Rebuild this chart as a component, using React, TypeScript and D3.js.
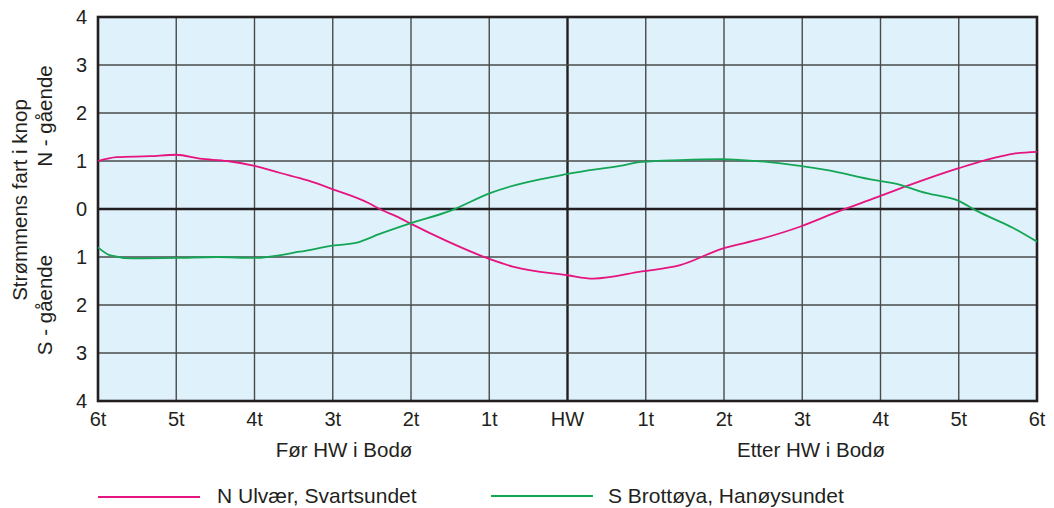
import React from "react";
import * as d3 from "d3";

// hours relative to HW in Bodø (negative = before), values in knots (positive = N-going, negative = S-going)
const hourTicks = [-6, -5, -4, -3, -2, -1, 0, 1, 2, 3, 4, 5, 6];
const hourLabels = ["6t", "5t", "4t", "3t", "2t", "1t", "HW", "1t", "2t", "3t", "4t", "5t", "6t"];
const speedTicks = [4, 3, 2, 1, 0, -1, -2, -3, -4];

const ulvaerHours = [-6, -5.76, -5.34, -5.0, -4.7, -4.35, -4.0, -3.67, -3.33, -2.98, -2.55, -2.4, -2.14, -2.01, -1.54, -1.0, -0.7, 0.0, 0.33, 0.95, 1.44, 1.97, 2.46, 2.97, 3.48, 3.93, 4.34, 5.0, 5.44, 5.69, 6.0];
const ulvaerSpeed = [1.0, 1.08, 1.1, 1.13, 1.05, 1.0, 0.9, 0.75, 0.6, 0.4, 0.13, 0.0, -0.19, -0.3, -0.67, -1.04, -1.2, -1.38, -1.45, -1.3, -1.17, -0.83, -0.63, -0.37, -0.04, 0.23, 0.48, 0.85, 1.06, 1.15, 1.19];

const brottoyaHours = [-6, -5.85, -5.55, -5.0, -4.48, -4.0, -3.42, -2.98, -2.69, -2.4, -2.01, -1.5, -0.99, 0.0, 0.67, 0.95, 1.44, 1.97, 2.24, 2.97, 3.32, 3.93, 4.16, 4.59, 5.0, 5.23, 5.44, 5.69, 6.0];
const brottoyaSpeed = [-0.8, -0.96, -1.03, -1.02, -1.0, -1.02, -0.89, -0.76, -0.7, -0.52, -0.3, -0.04, 0.33, 0.73, 0.9, 0.98, 1.02, 1.04, 1.02, 0.9, 0.81, 0.6, 0.54, 0.33, 0.17, -0.04, -0.2, -0.39, -0.68];

const seriesNames = ["N Ulvær, Svartsundet", "S Brottøya, Hanøysundet"];
const seriesColors = ["#e5147f", "#13a655"];

const W = 1054;
const H = 508;
const left = 98;
const right = 1037;
const top = 17;
const bottom = 401;
const font = "'Liberation Sans', Arial, Helvetica, sans-serif";
const textColor = "#231f20";

export default function App() {
  const x = d3.scaleLinear().domain([-6, 6]).range([left, right]);
  const y = d3.scaleLinear().domain([4, -4]).range([top, bottom]);

  const line = d3
    .line<[number, number]>()
    .x((d) => x(d[0]))
    .y((d) => y(d[1]))
    .curve(d3.curveMonotoneX);

  const ulvaer: [number, number][] = ulvaerHours.map((h, i) => [h, ulvaerSpeed[i]]);
  const brottoya: [number, number][] = brottoyaHours.map((h, i) => [h, brottoyaSpeed[i]]);

  return (
    <svg
      width={W}
      height={H}
      style={{ position: "absolute", left: 0, top: 0, background: "#fff" }}
      fontFamily={font}
    >
      <rect x={left} y={top} width={right - left} height={bottom - top} fill="#dff1fb" />
      {/* grid */}
      {hourTicks.map((h) => (
        <line
          key={"gx" + h}
          x1={x(h)}
          x2={x(h)}
          y1={top}
          y2={bottom}
          stroke={h === 0 ? "#231f20" : "#4a4a4a"}
          strokeWidth={h === 0 ? 2.4 : 1.4}
        />
      ))}
      {speedTicks.map((v) => (
        <line
          key={"gy" + v}
          x1={left}
          x2={right}
          y1={y(v)}
          y2={y(v)}
          stroke={v === 0 ? "#231f20" : "#4a4a4a"}
          strokeWidth={v === 0 ? 2.4 : 1.4}
        />
      ))}
      <rect
        x={left}
        y={top}
        width={right - left}
        height={bottom - top}
        fill="none"
        stroke="#231f20"
        strokeWidth={2.6}
      />
      {/* series */}
      <path d={line(ulvaer) || ""} fill="none" stroke={seriesColors[0]} strokeWidth={1.8} />
      <path d={line(brottoya) || ""} fill="none" stroke={seriesColors[1]} strokeWidth={1.8} />

      {/* y tick labels */}
      {speedTicks.map((v) => (
        <text
          key={"ty" + v}
          x={left - 11}
          y={y(v)}
          dy="0.36em"
          textAnchor="end"
          fontSize={20}
          fill={textColor}
        >
          {Math.abs(v)}
        </text>
      ))}
      {/* x tick labels */}
      {hourTicks.map((h, i) => (
        <text
          key={"tx" + h}
          x={x(h)}
          y={426}
          textAnchor="middle"
          fontSize={20}
          fill={textColor}
        >
          {hourLabels[i]}
        </text>
      ))}
      <text x={344} y={457} textAnchor="middle" fontSize={20.5} fill={textColor}>
        Før HW i Bodø
      </text>
      <text x={811} y={457} textAnchor="middle" fontSize={20.5} fill={textColor}>
        Etter HW i Bodø
      </text>

      {/* y axis titles */}
      <text transform="translate(27,200) rotate(-90)" textAnchor="middle" fontSize={20.5} fill={textColor}>
        Strømmens fart i knop
      </text>
      <text transform="translate(52,116) rotate(-90)" textAnchor="middle" fontSize={20.5} fill={textColor}>
        N - gående
      </text>
      <text transform="translate(52,305) rotate(-90)" textAnchor="middle" fontSize={20.5} fill={textColor}>
        S - gående
      </text>

      {/* legend */}
      <line x1={98} x2={200} y1={497} y2={497} stroke={seriesColors[0]} strokeWidth={2} />
      <text x={217} y={503} fontSize={21} fill={textColor}>
        {seriesNames[0]}
      </text>
      <line x1={491} x2={593} y1={496} y2={496} stroke={seriesColors[1]} strokeWidth={2} />
      <text x={608} y={503} fontSize={21} fill={textColor}>
        {seriesNames[1]}
      </text>
    </svg>
  );
}
